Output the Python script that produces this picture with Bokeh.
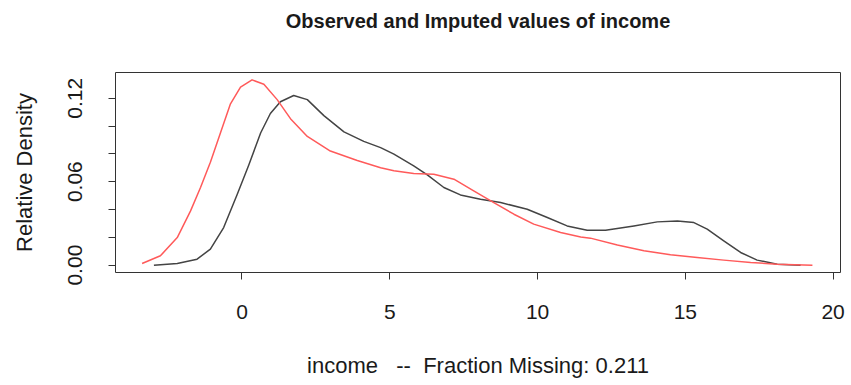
from bokeh.plotting import figure
from bokeh.models import FixedTicker, Range1d, NumeralTickFormatter, Title
from bokeh.embed import file_html
from bokeh.resources import INLINE

# ---- data ----
obs_x = [-2.98, -2.19, -1.52, -1.07, -0.62, -0.16, 0.23, 0.63, 0.96, 1.30, 1.75, 2.21, 2.77,
         3.45, 4.12, 4.69, 5.14, 5.81, 6.27, 6.83, 7.39, 8.07, 8.75, 9.65, 10.33, 11.00,
         11.68, 12.30, 13.26, 14.05, 14.73, 15.29, 15.74, 16.30, 16.87, 17.43, 18.11, 18.90]
obs_d = [0.0000, 0.0012, 0.0043, 0.0115, 0.0270, 0.0510, 0.0720, 0.0950, 0.1090, 0.1175, 0.1220, 0.1190, 0.1075,
         0.0958, 0.0890, 0.0845, 0.0798, 0.0714, 0.0649, 0.0558, 0.0505, 0.0474, 0.0450, 0.0402, 0.0342, 0.0282,
         0.0251, 0.0250, 0.0282, 0.0311, 0.0318, 0.0306, 0.0259, 0.0175, 0.0091, 0.0036, 0.0007, 0.0000]

imp_x = [-3.38, -2.76, -2.19, -1.74, -1.40, -1.07, -0.73, -0.39, -0.05, 0.34, 0.74, 1.19, 1.64,
         2.21, 2.99, 3.90, 4.69, 5.14, 5.81, 6.49, 7.17, 7.84, 8.52, 9.20, 9.87, 10.78, 11.46,
         11.79, 12.70, 13.60, 14.50, 15.40, 16.30, 17.21, 18.11, 19.30]
imp_d = [0.0012, 0.0067, 0.0198, 0.0390, 0.0560, 0.0740, 0.0950, 0.1160, 0.1280, 0.1332, 0.1300, 0.1190, 0.1053,
         0.0925, 0.0820, 0.0752, 0.0700, 0.0678, 0.0658, 0.0654, 0.0618, 0.0534, 0.0450, 0.0366, 0.0295, 0.0234, 0.0203,
         0.0194, 0.0144, 0.0103, 0.0074, 0.0055, 0.0036, 0.0019, 0.0007, 0.0000]

x_ticks = [0, 5, 10, 15, 20]
y_ticks = [0.00, 0.06, 0.12]
y_minor_ticks = [0.02, 0.04, 0.08, 0.10]

title_text = "Observed and Imputed values of income"
x_label = "income\u00a0\u00a0\u00a0--\u00a0\u00a0Fraction Missing: 0.211"
y_label = "Relative Density"

FONT = "Liberation Sans"
TXT = "#1a1a1a"
AX = "#333333"

p = figure(width=851, height=385, output_backend="svg", toolbar_location=None,
           x_range=Range1d(-4.28, 20.25), y_range=Range1d(-0.0053, 0.1385),
           min_border_left=115, min_border_right=11, min_border_top=72, min_border_bottom=113,
           title=title_text)

p.background_fill_color = "white"
p.border_fill_color = "white"
p.outline_line_color = AX
p.outline_line_width = 1
p.xgrid.visible = False
p.ygrid.visible = False

# invisible spacer between the frame and the title (pushes the title upward)
spacer = Title(text="\u00a0", text_font_size="1px", text_color="white", standoff=28)
p.add_layout(spacer, "above")

p.title.text_font = FONT
p.title.text_font_size = "20px"
p.title.text_font_style = "bold"
p.title.text_color = TXT
p.title.align = "center"
p.title.vertical_align = "top"
p.title.standoff = 16

# x axis
xa = p.xaxis[0]
xa.ticker = FixedTicker(ticks=x_ticks)
xa.bounds = (x_ticks[0], x_ticks[-1])
xa.axis_line_color = AX
xa.major_tick_line_color = AX
xa.major_tick_out = 7
xa.major_tick_in = 0
xa.minor_tick_out = 0
xa.minor_tick_in = 0
xa.major_label_text_font = FONT
xa.major_label_text_font_size = "21px"
xa.major_label_text_color = TXT
xa.major_label_standoff = 25
xa.axis_label = x_label
xa.axis_label_text_font = FONT
xa.axis_label_text_font_size = "22px"
xa.axis_label_text_font_style = "normal"
xa.axis_label_text_color = TXT
xa.axis_label_standoff = 31

# y axis
ya = p.yaxis[0]
ya.ticker = FixedTicker(ticks=y_ticks, minor_ticks=y_minor_ticks)
ya.bounds = (y_ticks[0], y_ticks[-1])
ya.formatter = NumeralTickFormatter(format="0.00")
ya.axis_line_color = AX
ya.major_tick_line_color = AX
ya.minor_tick_line_color = AX
ya.major_tick_out = 7
ya.major_tick_in = 0
ya.minor_tick_out = 7
ya.minor_tick_in = 0
ya.major_label_orientation = "vertical"
ya.major_label_text_font = FONT
ya.major_label_text_font_size = "21px"
ya.major_label_text_color = TXT
ya.major_label_standoff = 26
ya.axis_label = y_label
ya.axis_label_text_font = FONT
ya.axis_label_text_font_size = "22px"
ya.axis_label_text_font_style = "normal"
ya.axis_label_text_color = TXT
ya.axis_label_standoff = 29

p.line(obs_x, obs_d, line_color="#444444", line_width=1.5, line_join="round")
p.line(imp_x, imp_d, line_color="#ff5a5a", line_width=1.5, line_join="round")

open("out.html", "w").write(file_html(p, INLINE))
